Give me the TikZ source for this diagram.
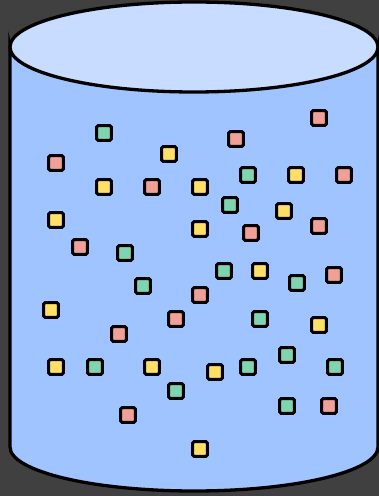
\documentclass[tikz,border=0pt]{standalone}
\definecolor{bg}{RGB}{64,64,64}
\definecolor{cyltop}{RGB}{200,220,255}
\definecolor{cylbody}{RGB}{160,196,255}
\definecolor{sqY}{RGB}{255,224,102}
\definecolor{sqG}{RGB}{128,212,176}
\definecolor{sqP}{RGB}{240,160,152}
\begin{document}
\begin{tikzpicture}[x=1pt,y=1pt,
  sq/.style={draw=black,line width=3.1pt,rounded corners=1.5pt,minimum size=14.8pt,inner sep=0pt},
  cyl/.style={draw=black,line width=3.3pt}]
\fill[bg] (0,0) rectangle (379,496);
\useasboundingbox (0,0) rectangle (379,496);
% body
\coordinate (tl) at (10,449);
\coordinate (bl) at (10,49);
\path[cyl,fill=cylbody] (tl) -- (bl) arc[start angle=180,end angle=360,x radius=184,y radius=44] -- (378,449) arc[start angle=0,end angle=-180,x radius=184,y radius=44] -- cycle;
% top
\path[cyl,fill=cyltop] (194,449) ellipse[x radius=184,y radius=45];
\foreach \x/\y/\c [count=\i] in {
 319/378/sqP, 104/363/sqG, 236/357/sqP, 169/342/sqY, 56/333/sqP,
 248/321/sqG, 296/321/sqY, 344/321/sqP,
 104/309/sqY, 152/309/sqP, 200/309/sqY,
 230/291/sqG, 284/285/sqY, 56/276/sqY, 319/270/sqP, 200/267/sqY, 251/263/sqP,
 80/249/sqP, 125/243/sqG,
 224/225/sqG, 260/225/sqY, 334/221/sqP, 297/213/sqG, 143/210/sqG, 200/201/sqP,
 51/186/sqY, 176/177/sqP, 260/177/sqG, 319/171/sqY,
 119/162/sqP,
 56/129/sqY, 95/129/sqG, 152/129/sqY, 215/124/sqY, 248/129/sqG, 287/141/sqG, 335/129/sqG,
 176/105/sqG, 128/81/sqP, 287/90/sqG, 329/90/sqP, 200/47/sqY}
 \node[sq,fill=\c] (s\i) at (\x,\y) {};
\end{tikzpicture}
\end{document}
